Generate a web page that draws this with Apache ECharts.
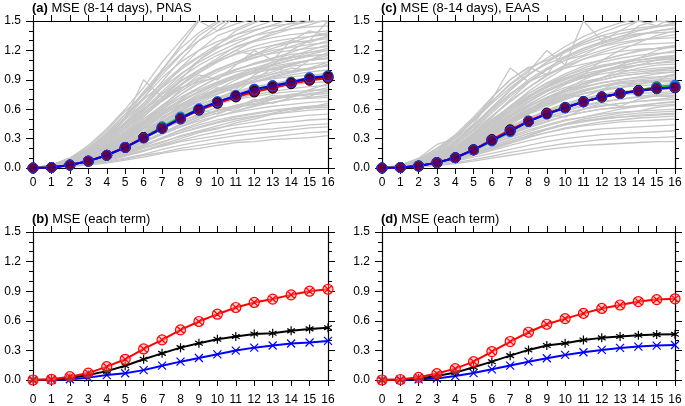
<!DOCTYPE html>
<html><head><meta charset="utf-8">
<script src="https://cdn.jsdelivr.net/npm/echarts@6/dist/echarts.min.js"></script>
<style>html,body{margin:0;padding:0;background:#fff}#c{width:685px;height:406px}</style>
</head><body><div id="c"></div>
<script>
var days = [0,1,2,3,4,5,6,7,8,9,10,11,12,13,14,15,16];
var yTicks = [0.0,0.3,0.6,0.9,1.2,1.5];

// Panel (a) ensemble members, PNAS
var membersA = [
[0,0.005,0.015,0.03,0.05,0.08,0.11,0.15,0.18,0.2,0.23,0.26,0.27,0.29,0.3,0.31,0.33],
[0,0.005,0.02,0.04,0.06,0.09,0.13,0.16,0.2,0.23,0.26,0.28,0.3,0.32,0.34,0.36,0.37],
[0,0.01,0.02,0.04,0.07,0.1,0.14,0.19,0.23,0.27,0.3,0.33,0.35,0.37,0.39,0.41,0.42],
[0,0.01,0.03,0.05,0.09,0.13,0.18,0.22,0.27,0.3,0.33,0.36,0.39,0.4,0.42,0.44,0.45],
[0,0.01,0.02,0.05,0.08,0.12,0.17,0.23,0.28,0.33,0.37,0.41,0.43,0.46,0.47,0.49,0.5],
[0,0.01,0.03,0.06,0.1,0.15,0.21,0.27,0.32,0.37,0.41,0.44,0.47,0.5,0.52,0.54,0.55],
[0,0.01,0.03,0.06,0.11,0.17,0.24,0.3,0.36,0.41,0.46,0.5,0.53,0.55,0.57,0.59,0.6],
[0,0.01,0.02,0.05,0.1,0.16,0.23,0.31,0.38,0.44,0.49,0.53,0.56,0.59,0.61,0.63,0.64],
[0,0.01,0.03,0.07,0.13,0.2,0.28,0.35,0.42,0.48,0.53,0.57,0.6,0.63,0.65,0.67,0.68],
[0,0.01,0.04,0.09,0.16,0.24,0.33,0.41,0.48,0.54,0.58,0.62,0.65,0.67,0.7,0.71,0.72],
[0,0.01,0.03,0.07,0.12,0.19,0.27,0.36,0.45,0.53,0.59,0.64,0.68,0.71,0.73,0.75,0.76],
[0,0.02,0.05,0.1,0.17,0.26,0.36,0.45,0.53,0.6,0.65,0.7,0.73,0.76,0.78,0.79,0.8],
[0,0.01,0.03,0.07,0.13,0.21,0.3,0.4,0.5,0.58,0.65,0.71,0.75,0.78,0.81,0.83,0.84],
[0,0.01,0.04,0.09,0.16,0.25,0.36,0.47,0.57,0.65,0.71,0.76,0.8,0.83,0.85,0.87,0.88],
[0,0.01,0.03,0.08,0.14,0.23,0.33,0.44,0.55,0.64,0.72,0.78,0.83,0.86,0.89,0.91,0.92],
[0,0.02,0.05,0.11,0.19,0.3,0.42,0.54,0.64,0.72,0.79,0.84,0.88,0.91,0.93,0.95,0.96],
[0,0.01,0.04,0.08,0.15,0.24,0.35,0.47,0.58,0.68,0.76,0.83,0.88,0.92,0.95,0.98,1.0],
[0,0.01,0.03,0.07,0.14,0.24,0.36,0.5,0.62,0.72,0.8,0.86,0.92,0.96,0.99,1.02,1.04],
[0,0.02,0.06,0.12,0.21,0.32,0.45,0.58,0.69,0.78,0.86,0.92,0.97,1.01,1.04,1.06,1.08],
[0,0.01,0.04,0.1,0.18,0.29,0.42,0.55,0.67,0.78,0.87,0.94,0.99,1.04,1.07,1.1,1.12],
[0,0.02,0.05,0.11,0.2,0.33,0.48,0.62,0.75,0.86,0.94,1.01,1.06,1.1,1.13,1.15,1.16],
[0,0.01,0.04,0.09,0.17,0.28,0.41,0.56,0.7,0.82,0.92,1.0,1.07,1.12,1.16,1.18,1.2],
[0,0.02,0.06,0.13,0.24,0.38,0.53,0.68,0.81,0.92,1.01,1.08,1.13,1.17,1.2,1.22,1.24],
[0,0.01,0.05,0.11,0.2,0.32,0.47,0.63,0.78,0.9,1.0,1.08,1.15,1.2,1.23,1.26,1.28],
[0,0.02,0.07,0.15,0.27,0.42,0.59,0.75,0.89,1.0,1.09,1.16,1.21,1.25,1.28,1.3,1.32],
[0,0.01,0.05,0.12,0.22,0.36,0.52,0.69,0.84,0.97,1.08,1.17,1.24,1.29,1.32,1.34,1.36],
[0,0.02,0.06,0.14,0.26,0.41,0.58,0.76,0.92,1.05,1.15,1.23,1.29,1.33,1.36,1.38,1.4],
[0,0.02,0.07,0.16,0.3,0.47,0.66,0.84,1.0,1.13,1.23,1.3,1.35,1.39,1.42,1.44,1.45],
[0,0.03,0.09,0.19,0.34,0.52,0.72,0.92,1.08,1.2,1.29,1.36,1.41,1.45,1.47,1.49,1.5],
[0,0.02,0.08,0.18,0.33,0.52,0.76,0.98,1.16,1.3,1.4,1.47,1.52,1.55,1.57,1.59,1.6],
[0,0.02,0.08,0.2,0.33,0.5,0.9,0.72,0.85,1.0,1.1,1.2,1.15,1.25,1.3,1.28,1.35],
[0,0.03,0.1,0.2,0.35,0.55,0.7,1.0,1.25,1.5,1.4,1.55,1.6,1.58,1.62,1.6,1.65],
[0,0.01,0.04,0.1,0.2,0.35,0.5,0.62,0.8,0.95,0.9,1.05,1.2,1.1,1.3,1.4,1.35],
[0,0.01,0.03,0.06,0.12,0.2,0.3,0.38,0.5,0.6,0.55,0.62,0.7,0.66,0.72,0.8,0.78],
[0,0.01,0.04,0.08,0.15,0.26,0.4,0.48,0.58,0.7,0.82,0.78,0.9,1.02,0.98,1.1,1.15],
[0,0.02,0.05,0.09,0.14,0.2,0.27,0.35,0.42,0.5,0.6,0.58,0.64,0.7,0.75,0.73,0.8],
[0,0.01,0.03,0.07,0.12,0.2,0.3,0.42,0.55,0.62,0.7,0.8,0.95,1.05,1.2,1.3,1.5],
[0,0.02,0.06,0.14,0.25,0.4,0.55,0.7,0.82,0.88,0.92,0.98,1.02,1.0,1.05,1.1,1.12],
[0,0.01,0.02,0.05,0.08,0.13,0.18,0.24,0.3,0.36,0.4,0.46,0.5,0.55,0.58,0.62,0.66],
[0,0.02,0.07,0.17,0.3,0.45,0.62,0.82,1.02,1.2,1.35,1.42,1.5,1.58,1.55,1.6,1.65],
[0,0.01,0.03,0.08,0.15,0.22,0.3,0.4,0.47,0.55,0.62,0.6,0.68,0.74,0.72,0.8,0.86],
[0,0.02,0.05,0.1,0.18,0.28,0.4,0.52,0.6,0.7,0.76,0.85,0.9,0.96,1.02,1.0,1.06],
[0,0.01,0.04,0.09,0.17,0.27,0.38,0.5,0.63,0.74,0.84,0.92,1.0,1.08,1.14,1.2,1.26],
[0,0.02,0.06,0.13,0.24,0.37,0.55,0.7,0.85,0.98,1.1,1.2,1.3,1.38,1.45,1.5,1.55],
[0,0.03,0.09,0.2,0.36,0.55,0.78,1.0,1.22,1.38,1.5,1.6,1.65,1.6,1.7,1.7,1.7],
[0,0.02,0.08,0.17,0.32,0.5,0.66,0.88,1.1,1.3,1.45,1.55,1.6,1.62,1.6,1.65,1.65],
[0,0.03,0.1,0.23,0.4,0.6,0.82,1.08,1.3,1.52,1.6,1.6,1.6,1.6,1.6,1.6,1.6],
[0,0.01,0.05,0.12,0.22,0.34,0.48,0.6,0.72,0.8,0.88,0.95,1.02,1.08,1.12,1.18,1.22],
[0,0.01,0.03,0.06,0.11,0.18,0.26,0.35,0.44,0.52,0.58,0.64,0.68,0.72,0.75,0.78,0.82],
[0,0.01,0.02,0.05,0.09,0.14,0.2,0.26,0.33,0.38,0.43,0.48,0.52,0.56,0.6,0.62,0.64],
[0,0.01,0.03,0.07,0.13,0.22,0.32,0.43,0.55,0.66,0.75,0.82,0.88,0.93,0.97,1.01,1.05],
[0,0.02,0.05,0.1,0.2,0.3,0.44,0.56,0.65,0.74,0.8,0.86,0.93,0.98,1.05,1.1,1.18],
[0,0.01,0.04,0.1,0.19,0.31,0.45,0.6,0.75,0.88,0.98,1.06,1.12,1.18,1.24,1.3,1.34],
[0,0.02,0.07,0.15,0.28,0.44,0.6,0.78,0.95,1.1,1.22,1.32,1.4,1.46,1.52,1.55,1.6],
[0,0.01,0.03,0.07,0.12,0.18,0.26,0.34,0.42,0.5,0.56,0.62,0.66,0.7,0.73,0.76,0.78],
[0,0.02,0.06,0.11,0.2,0.3,0.42,0.52,0.62,0.7,0.78,0.84,0.88,0.94,0.98,1.02,1.08],
[0,0.01,0.04,0.09,0.16,0.26,0.36,0.48,0.6,0.7,0.8,0.9,0.98,1.05,1.1,1.16,1.2],
[0,0.02,0.06,0.14,0.26,0.4,0.56,0.72,0.88,1.0,1.12,1.24,1.3,1.36,1.42,1.46,1.52],
[0,0.03,0.1,0.22,0.38,0.58,0.75,0.95,1.15,1.35,1.48,1.55,1.62,1.66,1.7,1.7,1.72],
[0,0.01,0.03,0.06,0.1,0.15,0.22,0.3,0.36,0.42,0.47,0.52,0.55,0.58,0.6,0.61,0.62],
[0,0.01,0.03,0.08,0.14,0.22,0.34,0.46,0.56,0.62,0.7,0.76,0.82,0.86,0.9,0.92,0.98],
[0,0.02,0.05,0.12,0.22,0.34,0.5,0.64,0.78,0.9,1.0,1.08,1.16,1.22,1.28,1.34,1.38],
[0,0.02,0.07,0.16,0.29,0.46,0.64,0.82,0.96,1.08,1.18,1.27,1.35,1.42,1.48,1.52,1.56],
[0,0.01,0.04,0.09,0.15,0.24,0.34,0.44,0.52,0.6,0.68,0.74,0.8,0.85,0.88,0.92,0.94],
[0,0.03,0.09,0.18,0.3,0.45,0.6,0.72,0.9,1.1,1.25,1.4,1.48,1.55,1.6,1.6,1.62],
[0,0.01,0.03,0.07,0.14,0.24,0.36,0.5,0.64,0.76,0.86,0.94,1.0,1.06,1.1,1.14,1.16],
[0,0.02,0.06,0.13,0.23,0.35,0.47,0.58,0.68,0.78,0.86,0.92,0.97,1.02,1.06,1.1,1.12],
[0,0.02,0.06,0.15,0.3,0.5,0.7,0.86,1.02,1.14,1.26,1.36,1.44,1.5,1.56,1.6,1.64],
[0,0.01,0.02,0.05,0.1,0.16,0.23,0.31,0.39,0.46,0.53,0.58,0.63,0.67,0.7,0.72,0.74],
[0,0.01,0.05,0.11,0.2,0.32,0.46,0.6,0.72,0.82,0.92,1.0,1.06,1.12,1.18,1.24,1.3]
];

// Panel (c) ensemble members, EAAS
var membersC = [
[0,0.005,0.01,0.025,0.045,0.07,0.1,0.13,0.16,0.19,0.21,0.23,0.24,0.25,0.26,0.27,0.27],
[0,0.005,0.015,0.03,0.055,0.085,0.12,0.16,0.19,0.22,0.25,0.27,0.29,0.3,0.31,0.31,0.32],
[0,0.01,0.02,0.04,0.07,0.11,0.15,0.19,0.23,0.27,0.3,0.32,0.34,0.35,0.36,0.37,0.38],
[0,0.01,0.02,0.05,0.08,0.13,0.18,0.23,0.28,0.32,0.35,0.38,0.4,0.41,0.42,0.43,0.44],
[0,0.01,0.03,0.06,0.1,0.15,0.21,0.27,0.32,0.36,0.4,0.43,0.45,0.47,0.48,0.49,0.5],
[0,0.01,0.02,0.05,0.09,0.15,0.22,0.29,0.35,0.4,0.44,0.47,0.5,0.52,0.53,0.54,0.55],
[0,0.01,0.03,0.06,0.11,0.18,0.25,0.32,0.39,0.44,0.49,0.52,0.55,0.57,0.58,0.59,0.6],
[0,0.01,0.03,0.07,0.12,0.19,0.27,0.35,0.42,0.48,0.53,0.57,0.6,0.62,0.63,0.64,0.65],
[0,0.01,0.02,0.05,0.1,0.17,0.26,0.35,0.43,0.5,0.56,0.6,0.63,0.66,0.68,0.69,0.7],
[0,0.01,0.03,0.07,0.13,0.21,0.3,0.39,0.47,0.54,0.6,0.64,0.68,0.7,0.72,0.73,0.74],
[0,0.01,0.03,0.08,0.14,0.23,0.33,0.43,0.51,0.58,0.64,0.69,0.72,0.75,0.76,0.77,0.78],
[0,0.01,0.02,0.06,0.12,0.2,0.3,0.41,0.51,0.59,0.66,0.71,0.75,0.78,0.8,0.81,0.82],
[0,0.01,0.04,0.09,0.16,0.26,0.37,0.48,0.57,0.65,0.71,0.76,0.79,0.82,0.84,0.85,0.86],
[0,0.01,0.03,0.07,0.14,0.23,0.34,0.46,0.57,0.66,0.73,0.79,0.83,0.86,0.88,0.89,0.9],
[0,0.01,0.04,0.1,0.18,0.29,0.41,0.53,0.63,0.71,0.78,0.83,0.87,0.9,0.92,0.93,0.94],
[0,0.01,0.03,0.08,0.15,0.25,0.37,0.5,0.62,0.72,0.8,0.86,0.9,0.94,0.96,0.97,0.98],
[0,0.01,0.04,0.1,0.19,0.31,0.45,0.58,0.7,0.79,0.86,0.92,0.96,0.99,1.0,1.02,1.03],
[0,0.01,0.03,0.08,0.16,0.27,0.4,0.54,0.67,0.78,0.87,0.94,0.99,1.03,1.05,1.07,1.08],
[0,0.02,0.05,0.11,0.21,0.34,0.49,0.63,0.76,0.86,0.94,1.0,1.05,1.08,1.1,1.12,1.13],
[0,0.01,0.04,0.09,0.17,0.29,0.43,0.58,0.72,0.84,0.94,1.02,1.08,1.12,1.15,1.17,1.18],
[0,0.02,0.05,0.12,0.22,0.36,0.52,0.68,0.82,0.94,1.04,1.11,1.16,1.19,1.21,1.22,1.23],
[0,0.01,0.04,0.1,0.19,0.32,0.47,0.63,0.78,0.91,1.02,1.11,1.18,1.23,1.26,1.27,1.28],
[0,0.02,0.06,0.13,0.24,0.39,0.56,0.73,0.88,1.0,1.1,1.18,1.24,1.28,1.31,1.32,1.33],
[0,0.02,0.05,0.11,0.21,0.35,0.52,0.7,0.87,1.01,1.13,1.22,1.29,1.34,1.37,1.38,1.39],
[0,0.02,0.07,0.15,0.27,0.43,0.61,0.79,0.95,1.08,1.19,1.28,1.35,1.4,1.43,1.45,1.46],
[0,0.03,0.1,0.24,0.3,0.45,0.7,1.02,0.88,1.0,1.1,1.15,1.25,1.3,1.35,1.4,1.42],
[0,0.02,0.08,0.2,0.33,0.48,0.72,0.9,1.03,0.95,1.2,1.28,1.35,1.3,1.45,1.5,1.48],
[0,0.02,0.07,0.16,0.3,0.5,0.68,0.85,0.98,1.2,1.05,1.5,1.3,1.4,1.5,1.45,1.55],
[0,0.01,0.03,0.07,0.12,0.2,0.3,0.38,0.48,0.55,0.52,0.6,0.66,0.63,0.7,0.74,0.72],
[0,0.01,0.04,0.09,0.17,0.28,0.38,0.5,0.6,0.66,0.75,0.72,0.8,0.88,0.85,0.9,0.95],
[0,0.01,0.02,0.05,0.09,0.14,0.2,0.26,0.33,0.4,0.45,0.5,0.53,0.56,0.58,0.62,0.64],
[0,0.02,0.05,0.1,0.18,0.26,0.36,0.46,0.58,0.7,0.8,0.9,0.98,1.05,1.12,1.2,1.25],
[0,0.01,0.03,0.07,0.13,0.22,0.32,0.44,0.56,0.68,0.78,0.84,0.92,1.0,1.05,1.1,1.15],
[0,0.02,0.06,0.12,0.22,0.33,0.46,0.58,0.7,0.8,0.88,0.95,1.1,1.2,1.28,1.35,1.4],
[0,0.01,0.03,0.06,0.11,0.17,0.24,0.31,0.37,0.43,0.48,0.52,0.56,0.6,0.63,0.66,0.68],
[0,0.02,0.06,0.14,0.26,0.42,0.6,0.76,0.88,0.96,1.02,1.06,1.1,1.15,1.2,1.22,1.25],
[0,0.01,0.03,0.07,0.12,0.2,0.28,0.36,0.44,0.5,0.56,0.6,0.64,0.66,0.68,0.7,0.72],
[0,0.02,0.05,0.11,0.2,0.3,0.42,0.54,0.65,0.75,0.82,0.88,0.92,0.96,0.98,1.0,1.02],
[0,0.01,0.04,0.09,0.17,0.27,0.39,0.52,0.64,0.75,0.85,0.93,0.99,1.04,1.08,1.1,1.12],
[0,0.02,0.06,0.13,0.24,0.38,0.53,0.68,0.82,0.95,1.05,1.14,1.2,1.26,1.3,1.33,1.36],
[0,0.02,0.08,0.18,0.32,0.5,0.68,0.86,1.0,1.12,1.24,1.34,1.42,1.48,1.52,1.55,1.58],
[0,0.01,0.03,0.06,0.1,0.16,0.22,0.29,0.35,0.4,0.45,0.48,0.51,0.54,0.56,0.57,0.58],
[0,0.01,0.03,0.08,0.15,0.24,0.35,0.46,0.56,0.65,0.72,0.78,0.83,0.86,0.89,0.9,0.92],
[0,0.02,0.05,0.1,0.19,0.3,0.43,0.56,0.68,0.78,0.86,0.93,0.98,1.02,1.05,1.07,1.1],
[0,0.01,0.02,0.05,0.09,0.14,0.2,0.27,0.33,0.39,0.44,0.48,0.5,0.52,0.54,0.55,0.56],
[0,0.01,0.04,0.1,0.18,0.28,0.4,0.5,0.6,0.68,0.74,0.8,0.84,0.88,0.9,0.92,0.96],
[0,0.02,0.06,0.14,0.25,0.4,0.58,0.75,0.9,1.02,1.12,1.2,1.27,1.32,1.36,1.4,1.43],
[0,0.01,0.03,0.07,0.13,0.21,0.31,0.41,0.5,0.58,0.64,0.7,0.74,0.77,0.8,0.82,0.84],
[0,0.02,0.05,0.12,0.22,0.36,0.5,0.62,0.74,0.84,0.92,0.98,1.04,1.08,1.12,1.16,1.2],
[0,0.01,0.04,0.09,0.16,0.26,0.37,0.49,0.6,0.7,0.78,0.86,0.92,0.97,1.02,1.05,1.06],
[0,0.03,0.09,0.2,0.34,0.52,0.72,0.9,1.02,1.1,1.2,1.3,1.38,1.45,1.5,1.55,1.6],
[0,0.01,0.03,0.06,0.12,0.19,0.27,0.36,0.45,0.52,0.58,0.63,0.67,0.7,0.73,0.75,0.76],
[0,0.01,0.04,0.08,0.15,0.24,0.34,0.45,0.55,0.62,0.7,0.76,0.8,0.82,0.86,0.88,0.88],
[0,0.02,0.06,0.12,0.21,0.33,0.47,0.61,0.73,0.83,0.91,0.98,1.03,1.07,1.1,1.13,1.15],
[0,0.01,0.02,0.04,0.08,0.13,0.19,0.25,0.31,0.36,0.41,0.44,0.47,0.49,0.51,0.52,0.53],
[0,0.02,0.07,0.15,0.28,0.44,0.62,0.8,0.95,1.08,1.18,1.26,1.32,1.37,1.41,1.44,1.46],
[0,0.01,0.03,0.08,0.15,0.25,0.36,0.48,0.59,0.68,0.76,0.82,0.87,0.9,0.93,0.96,0.98],
[0,0.02,0.05,0.1,0.18,0.28,0.4,0.52,0.63,0.72,0.8,0.86,0.9,0.94,0.96,0.99,1.0],
[0,0.01,0.04,0.1,0.2,0.33,0.48,0.63,0.76,0.87,0.96,1.04,1.1,1.15,1.19,1.22,1.24],
[0,0.01,0.03,0.06,0.11,0.18,0.26,0.34,0.41,0.47,0.53,0.57,0.6,0.62,0.64,0.66,0.67],
[0,0.02,0.06,0.13,0.22,0.34,0.46,0.6,0.72,0.82,0.9,0.96,1.0,1.04,1.08,1.1,1.11],
[0,0.02,0.07,0.17,0.31,0.48,0.66,0.82,0.96,1.06,1.14,1.22,1.28,1.34,1.4,1.44,1.48],
[0,0.01,0.03,0.07,0.13,0.2,0.29,0.39,0.48,0.56,0.62,0.68,0.72,0.76,0.78,0.8,0.81],
[0,0.01,0.04,0.09,0.16,0.25,0.35,0.46,0.56,0.64,0.7,0.76,0.8,0.84,0.86,0.88,0.9]
];

// Panel (a) main curves
var aGreen = [0,0.005,0.03,0.07,0.13,0.21,0.31,0.42,0.52,0.605,0.675,0.735,0.8,0.84,0.875,0.92,0.94];
var aBlack = [0,0.005,0.03,0.07,0.13,0.21,0.31,0.405,0.505,0.595,0.665,0.73,0.78,0.82,0.865,0.9,0.925];
var aRed   = [0,0.005,0.03,0.07,0.13,0.21,0.31,0.405,0.5,0.59,0.66,0.725,0.775,0.815,0.86,0.895,0.915];
var aBlue  = [0,0.005,0.03,0.07,0.13,0.21,0.305,0.405,0.505,0.6,0.675,0.74,0.805,0.84,0.875,0.92,0.94];
// Panel (c) main curves
var cGreen = [0,0.005,0.02,0.055,0.105,0.185,0.275,0.37,0.475,0.555,0.62,0.68,0.725,0.76,0.79,0.83,0.845];
var cBlack = [0,0.005,0.02,0.055,0.105,0.185,0.285,0.385,0.475,0.555,0.615,0.675,0.725,0.76,0.79,0.81,0.82];
var cRed   = [0,0.005,0.02,0.055,0.105,0.185,0.29,0.39,0.48,0.56,0.615,0.675,0.725,0.76,0.79,0.81,0.82];
var cBlue  = [0,0.005,0.02,0.055,0.105,0.185,0.28,0.375,0.475,0.55,0.615,0.675,0.725,0.76,0.785,0.81,0.825];
// Panel (b) terms
var bRed   = [0,0.007,0.034,0.07,0.135,0.21,0.315,0.407,0.508,0.593,0.667,0.735,0.786,0.82,0.863,0.9,0.92];
var bBlack = [0,0.005,0.02,0.05,0.09,0.145,0.21,0.27,0.328,0.372,0.413,0.44,0.467,0.474,0.498,0.518,0.53];
var bBlue  = [0,0.002,0.008,0.024,0.05,0.068,0.1,0.145,0.186,0.223,0.26,0.298,0.328,0.35,0.37,0.38,0.396];
// Panel (d) terms
var dRed   = [0,0.005,0.027,0.065,0.115,0.186,0.288,0.39,0.484,0.565,0.622,0.675,0.725,0.76,0.795,0.815,0.823];
var dBlack = [0,0.004,0.015,0.04,0.075,0.13,0.186,0.247,0.305,0.349,0.372,0.406,0.427,0.44,0.454,0.46,0.464];
var dBlue  = [0,0.002,0.007,0.015,0.04,0.07,0.108,0.146,0.186,0.22,0.254,0.281,0.305,0.325,0.339,0.349,0.355];

var titles = [
  ['(a)', 'MSE (8-14 days), PNAS'],
  ['(b)', 'MSE (each term)'],
  ['(c)', 'MSE (8-14 days), EAAS'],
  ['(d)', 'MSE (each term)']
];

var FONT = '"Liberation Sans", Arial, Helvetica, sans-serif';
var grids = [
  {left: 33, top: 21, width: 295, height: 147},
  {left: 33, top: 232, width: 295, height: 148},
  {left: 382, top: 21, width: 293, height: 147},
  {left: 382, top: 232, width: 293, height: 148}
];
var labelMargins = [9, 14, 9, 14];

function pairs(arr){ return arr.map(function(v,i){ return [days[i], v]; }); }

var xAxes = [], yAxes = [], series = [], titleOpts = [];
grids.forEach(function(g, gi){
  var line = {show: true, onZero: false, lineStyle: {color: '#000', width: 1.2}};
  var tick = {show: true, inside: false, length: 6, lineStyle: {color: '#000', width: 1}};
  xAxes.push({gridIndex: gi, type: 'value', min: 0, max: 16, interval: 1, position: 'bottom',
    axisLine: line, splitLine: {show: false}, axisTick: tick,
    axisLabel: {show: true, margin: labelMargins[gi], color: '#000', fontSize: 12, fontFamily: FONT,
      formatter: function(v){ return String(days[v]); }}});
  xAxes.push({gridIndex: gi, type: 'value', min: 0, max: 16, interval: 1, position: 'top',
    axisLine: line, splitLine: {show: false}, axisTick: tick, axisLabel: {show: false}});
  var ytick = {show: true, inside: false, length: 7, lineStyle: {color: '#000', width: 1}};
  var minor = {show: true, splitNumber: 3, length: 4, lineStyle: {color: '#000', width: 1}};
  yAxes.push({gridIndex: gi, type: 'value', min: 0, max: 1.5, interval: 0.3, position: 'left',
    axisLine: line, splitLine: {show: false}, minorSplitLine: {show: false},
    axisTick: ytick, minorTick: minor,
    axisLabel: {show: true, margin: 12, color: '#000', fontSize: 12, fontFamily: FONT,
      formatter: function(v){ var i = Math.round(v/0.3); return yTicks[i] !== undefined ? yTicks[i].toFixed(1) : ''; }}});
  yAxes.push({gridIndex: gi, type: 'value', min: 0, max: 1.5, interval: 0.3, position: 'right',
    axisLine: line, splitLine: {show: false}, minorSplitLine: {show: false},
    axisTick: ytick, minorTick: minor, axisLabel: {show: false}});
  titleOpts.push({
    left: g.left - 1, top: g.top - 19,
    text: '{b|' + titles[gi][0] + '} ' + titles[gi][1],
    textStyle: {fontSize: 13, fontWeight: 'normal', color: '#000', fontFamily: FONT,
      rich: {b: {fontWeight: 'bold', fontSize: 13, color: '#000', fontFamily: FONT}}},
    padding: 0
  });
  // anchor series so the mirrored top/right axes are rendered
  series.push({type: 'line', xAxisIndex: gi*2+1, yAxisIndex: gi*2+1,
    data: [[0, 0], [16, 1.5]], symbol: 'none', silent: true, animation: false,
    lineStyle: {opacity: 0, width: 0}, z: 0});
});

function grayLines(members, gi){
  members.forEach(function(m){
    series.push({type: 'line', xAxisIndex: gi*2, yAxisIndex: gi*2, data: pairs(m),
      symbol: 'none', silent: true, animation: false, z: 1, clip: true,
      lineStyle: {color: '#c6c6c6', width: 1.3}});
  });
}
function mainLine(arr, gi, color, mk, z){
  series.push({type: 'line', xAxisIndex: gi*2, yAxisIndex: gi*2, data: pairs(arr),
    symbol: 'circle', symbolSize: 10, animation: false, z: z,
    lineStyle: {color: color, width: 2},
    itemStyle: {color: mk.fill, borderColor: mk.border, borderWidth: mk.bw}});
}
var XPATH = 'path://M0,0L10,10M10,0L0,10';
var STAR = 'path://M5,0L5,10M0.7,2.5L9.3,7.5M9.3,2.5L0.7,7.5';
var OX = 'path://M10,5A5,5,0,1,1,0,5A5,5,0,1,1,10,5ZM1.6,1.6L8.4,8.4M8.4,1.6L1.6,8.4';
function termLine(arr, gi, color, sym, size, fill, z){
  series.push({type: 'line', xAxisIndex: gi*2, yAxisIndex: gi*2, data: pairs(arr),
    symbol: sym, symbolSize: size, symbolKeepAspect: true, animation: false, z: z,
    lineStyle: {color: color, width: 2},
    itemStyle: {color: fill, borderColor: color, borderWidth: 1.2}});
}

grayLines(membersA, 0);
grayLines(membersC, 2);
mainLine(aGreen, 0, '#00cc00', {fill: '#00b000', border: '#3060ff', bw: 1}, 5);
mainLine(aBlack, 0, '#000000', {fill: '#300020', border: '#000', bw: 1}, 6);
mainLine(aRed, 0, '#ff0000', {fill: '#a00030', border: '#200010', bw: 1}, 7);
mainLine(aBlue, 0, '#0000ff', {fill: 'rgba(80,0,60,0.6)', border: '#2040ff', bw: 1}, 8);
mainLine(cGreen, 2, '#00cc00', {fill: '#00b000', border: '#3060ff', bw: 1}, 5);
mainLine(cBlack, 2, '#000000', {fill: '#300020', border: '#000', bw: 1}, 6);
mainLine(cRed, 2, '#ff0000', {fill: '#a00030', border: '#200010', bw: 1}, 7);
mainLine(cBlue, 2, '#0000ff', {fill: 'rgba(80,0,60,0.6)', border: '#2040ff', bw: 1}, 8);

termLine(bBlue, 1, '#0000ff', XPATH, 8, 'none', 5);
termLine(bBlack, 1, '#000000', STAR, 9, 'none', 6);
termLine(bRed, 1, '#ff0000', OX, 10, 'rgba(255,150,150,0.45)', 7);
termLine(dBlue, 3, '#0000ff', XPATH, 8, 'none', 5);
termLine(dBlack, 3, '#000000', STAR, 9, 'none', 6);
termLine(dRed, 3, '#ff0000', OX, 10, 'rgba(255,150,150,0.45)', 7);

var chart = echarts.init(document.getElementById('c'), null, {renderer: 'canvas'});
chart.setOption({
  animation: false,
  backgroundColor: '#fff',
  title: titleOpts,
  grid: grids,
  xAxis: xAxes,
  yAxis: yAxes,
  series: series
});
</script></body></html>
